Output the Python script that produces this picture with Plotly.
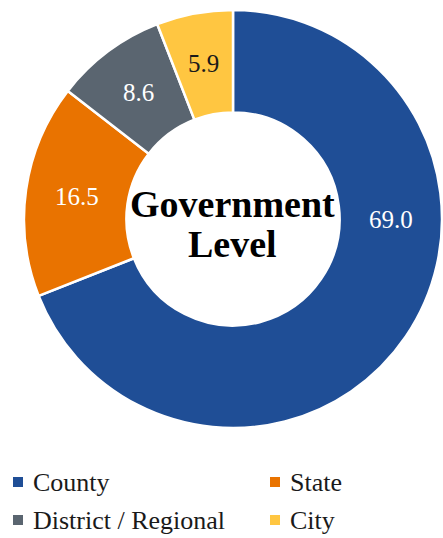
import math
import plotly.graph_objects as go

# Share of records by government level (%)
categories = ["County", "State", "District / Regional", "City"]
shares = [69.0, 16.5, 8.6, 5.9]
slice_colors = ["#1F4E96", "#E97300", "#5A6570", "#FFC641"]
label_colors = ["white", "white", "white", "#1a1a1a"]

W, H = 443, 538
FONT = "Liberation Serif"

# donut geometry in pixels (centre and outer radius), converted to paper domain
cx, cy, r_out = 233, 219, 209
hole = 0.51
dom_x = [(cx - r_out) / W, (cx + r_out) / W]
dom_y = [(H - (cy + r_out)) / H, (H - (cy - r_out)) / H]

fig = go.Figure(
    go.Pie(
        labels=categories,
        values=shares,
        textinfo="none",
        sort=False,
        direction="clockwise",
        rotation=0,
        hole=hole,
        marker=dict(colors=slice_colors, line=dict(color="white", width=2.5)),
        domain=dict(x=dom_x, y=dom_y),
        hoverinfo="label+value",
        showlegend=False,
    )
)

# value labels: mid-ring radius, at each slice's mid-angle (clockwise from 12 o'clock);
# the large County slice keeps its label at 3 o'clock beside the hole
r_mid = r_out * (1 + hole) / 2
total = sum(shares)
start = 0.0
for i, v in enumerate(shares):
    sweep = 360.0 * v / total
    ang = 90.0 if i == 0 else start + sweep / 2
    start += sweep
    px = cx + r_mid * math.sin(math.radians(ang))
    py = cy - r_mid * math.cos(math.radians(ang))
    fig.add_annotation(
        x=px / W, y=(H - py) / H, xref="paper", yref="paper",
        xanchor="center", yanchor="middle",
        text=f"{v:.1f}", showarrow=False,
        font=dict(family=FONT, size=25, color=label_colors[i]),
    )

# centre title
for text, ypx in (("<b>Government</b>", 204), ("<b>Level</b>", 244)):
    fig.add_annotation(
        x=cx / W, y=(H - ypx) / H, xref="paper", yref="paper",
        xanchor="center", yanchor="middle",
        text=text, showarrow=False,
        font=dict(family=FONT, size=38, color="black"),
    )

# two-column legend below the donut
col_x = [18, 275]
row_y = [482, 520]
sq = 10
for i, (name, color) in enumerate(zip(categories, slice_colors)):
    x0 = col_x[i % 2]
    y0 = row_y[i // 2]
    fig.add_shape(
        type="rect", xref="paper", yref="paper",
        x0=(x0 - sq / 2) / W, x1=(x0 + sq / 2) / W,
        y0=(H - y0 - sq / 2) / H, y1=(H - y0 + sq / 2) / H,
        fillcolor=color, line=dict(width=0),
    )
    fig.add_annotation(
        x=(x0 + 13) / W, y=(H - y0) / H, xref="paper", yref="paper",
        xanchor="left", yanchor="middle",
        text=name, showarrow=False,
        font=dict(family=FONT, size=26, color="#1a1a1a"),
    )

fig.update_layout(
    width=W, height=H,
    margin=dict(l=0, r=0, t=0, b=0),
    paper_bgcolor="white",
    plot_bgcolor="white",
    showlegend=False,
)

fig.write_html("out.html")
